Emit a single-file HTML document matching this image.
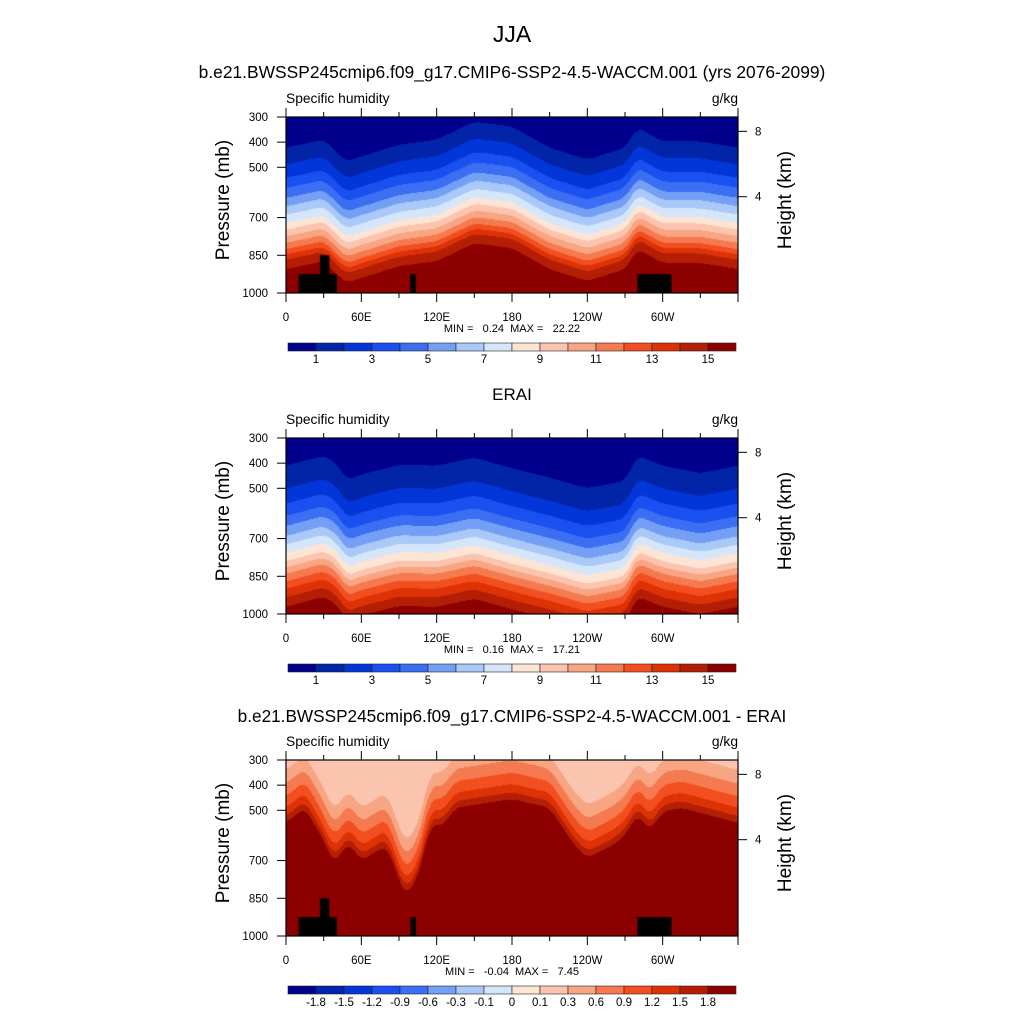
<!DOCTYPE html>
<html><head><meta charset="utf-8"><style>
html,body{margin:0;padding:0;background:#fff;}
#root{position:relative;width:1024px;height:1024px;overflow:hidden;font-family:"Liberation Sans",sans-serif;color:#000;}
.t{position:absolute;white-space:nowrap;}
canvas{position:absolute;}
svg{position:absolute;left:0;top:0;}
</style></head><body>
<div id="root">
<div class="t" style="left:0;width:1024px;text-align:center;top:21px;font-size:23px;">JJA</div>
<div class="t" style="left:0;width:1024px;text-align:center;top:62px;font-size:17.4px;">b.e21.BWSSP245cmip6.f09_g17.CMIP6-SSP2-4.5-WACCM.001 (yrs 2076-2099)</div>
<div class="t" style="left:0;width:1024px;text-align:center;top:385px;font-size:17px;">ERAI</div>
<div class="t" style="left:0;width:1024px;text-align:center;top:706px;font-size:17.2px;">b.e21.BWSSP245cmip6.f09_g17.CMIP6-SSP2-4.5-WACCM.001 - ERAI</div>
<canvas id="c1" width="452" height="176" style="left:286px;top:117px"></canvas>
<canvas id="c2" width="452" height="176" style="left:286px;top:438px"></canvas>
<canvas id="c3" width="452" height="176" style="left:286px;top:760px"></canvas>
<svg id="ov" width="1024" height="1024"></svg>
</div>
<script>
const palette=["#00008c","#0224a8","#0336d9","#1a4ff0","#3b6ef2","#73a0f5","#aac8f8","#d5e6fb","#fde5d5","#fbc4ae","#f8a583","#f57a4f","#f24e20","#dc3206","#b41e04","#8c0000"];
const levelsQ=[1,2,3,4,5,6,7,8,9,10,11,12,13,14,15];
const levelsD=[-1.8,-1.5,-1.2,-0.9,-0.6,-0.3,-0.1,0,0.1,0.3,0.6,0.9,1.2,1.5,1.8];
const cbLabelsQ=["1","3","5","7","9","11","13","15"];
const cbLabelsD=["-1.8","-1.5","-1.2","-0.9","-0.6","-0.3","-0.1","0","0.1","0.3","0.6","0.9","1.2","1.5","1.8"];
const lonTicks=["0","60E","120E","180","120W","60W"];
const presTicks=[300,400,500,700,850,1000];
const heightTicks=[8,4];
const heightTickPres=[357,617];
const profP=[300,400,500,600,700,800,850,925,1000];
const profModel=[0.3,1,2.5,5,8,11.8,14.2,16,17.5];
const profERAI=[0.2,0.8,1.8,3.5,6,9,11,13.5,15.5];
const profDiffP=[300,330,370,420,470,510,550,600,700,1000];
const profDiff=[0.12,0.25,0.45,0.75,1.05,1.35,1.8,2.3,3,5];
const shiftLonModel=[0,30,48,60,90,120,150,180,210,240,270,280,300,330,360];
const shiftModel=[-22,10,-77,-57,-10,10,81,62,-22,-69,-22,58,3,3,-22];
const shiftLonERAI=[0,30,40,49,60,90,120,150,180,210,240,270,280,300,330,360];
const shiftERAI=[10,50,20,-47,-25,13,10,42,0,-38,-80,-50,50,10,-20,10];
const shiftLonDiff=[0,15,30,38,50,60,80,95,105,115,125,135,180,210,230,240,260,270,280,290,300,315,330,360];
const shiftDiff=[0,60,-70,-160,-80,-150,-90,-290,-220,-10,-10,60,95,60,-90,-140,-90,-50,35,-30,45,60,40,0];
const topoLon0=[10,27,99,280];
const topoLon1=[40.5,34.5,103.5,307];
const topoTop=[925,850,925,925];
const minmax=[["0.24","22.22"],["0.16","17.21"],["-0.04","7.45"]];

const X0=286,W=452,H=176,P0=300,P1=1000;
const xLon=l=>X0+l/360*W;
const yP=(top,p)=>top+(p-P0)/(P1-P0)*H;
function interp(xs,ys,x){if(x<=xs[0])return ys[0];for(let i=1;i<xs.length;i++){if(x<=xs[i]){const t=(x-xs[i-1])/(xs[i]-xs[i-1]);return ys[i-1]+t*(ys[i]-ys[i-1]);}}return ys[ys.length-1];}
function smoothInterp(xs,ys,x){const t=[-4,-2,0,2,4];let s=0;for(const d of t)s+=interp(xs,ys,x+d);return s/t.length;}
function cls(levels,v){let k=0;while(k<levels.length&&v>=levels[k])k++;return k;}
function draw(id,pp,prof,sl,sv,levels,topo){
  const c=document.getElementById(id).getContext('2d');
  for(let i=0;i<W;i++){const lon=(i+0.5)/W*360;const s=smoothInterp(sl,sv,lon);
    for(let j=0;j<H;j++){const p=P0+(j+0.5)/H*(P1-P0);const v=interp(pp,prof,p+s);
      c.fillStyle=palette[cls(levels,v)];c.fillRect(i,j,1,1);}}
  if(topo){c.fillStyle="#000";for(let k=0;k<topoLon0.length;k++){const xa=topoLon0[k]/360*W,xb=topoLon1[k]/360*W,ya=(topoTop[k]-P0)/(P1-P0)*H;c.fillRect(xa,ya,xb-xa,H-ya);}}
}
draw('c1',profP,profModel,shiftLonModel,shiftModel,levelsQ,true);
draw('c2',profP,profERAI,shiftLonERAI,shiftERAI,levelsQ,false);
draw('c3',profDiffP,profDiff,shiftLonDiff,shiftDiff,levelsD,true);

const svg=document.getElementById('ov');const NS="http://www.w3.org/2000/svg";
function el(tag,a,txt){const e=document.createElementNS(NS,tag);for(const k in a)e.setAttribute(k,a[k]);if(txt!==undefined)e.textContent=txt;svg.appendChild(e);return e;}
const tops=[117,438,760];const cbY=[343,664,986];
tops.forEach((top,pi)=>{
  const fr=el('rect',{x:X0,y:top,width:W,height:H,fill:'none',stroke:'#000','stroke-width':1.2});
  
  
  for(let l=0;l<=360;l+=30){const x=xLon(l);const len=(l%60==0)?9:5;
    el('line',{x1:x,y1:top+H,x2:x,y2:top+H+len,stroke:'#000','stroke-width':1});
    el('line',{x1:x,y1:top,x2:x,y2:top-len,stroke:'#000','stroke-width':1});}
  lonTicks.forEach((lb,i)=>{const t=el('text',{x:xLon(i*60),y:top+H+28,'font-size':11.5,'text-anchor':'middle'},lb);
    
    });
  presTicks.forEach(p=>{const y=yP(top,p);el('line',{x1:X0,y1:y,x2:X0-9,y2:y,stroke:'#000','stroke-width':1});
    const t=el('text',{x:X0-18,y:y+4,'font-size':11.5,'text-anchor':'end'},String(p));
    
    });
  heightTicks.forEach((h,i)=>{const y=yP(top,heightTickPres[i]);el('line',{x1:X0+W,y1:y,x2:X0+W+9,y2:y,stroke:'#000','stroke-width':1});
    const t=el('text',{x:X0+W+17,y:y+4,'font-size':11.5},String(h));
    
    });
  let t=el('text',{x:X0,y:top-14,'font-size':13.8},'Specific humidity');
  
  
  t=el('text',{x:X0+W,y:top-14,'font-size':13.8,'text-anchor':'end'},'g/kg');
  
  
  const cy=top+H/2-5;
  t=el('text',{x:229,y:cy,'font-size':19,'text-anchor':'middle',transform:`rotate(-90 229 ${cy})`},'Pressure (mb)');
  
  
  t=el('text',{x:791,y:cy,'font-size':19,'text-anchor':'middle',transform:`rotate(-90 791 ${cy})`},'Height (km)');
  
  
  t=el('text',{x:512,y:top+H+39,'font-size':11,'text-anchor':'middle',style:'white-space:pre'},`MIN =   ${minmax[pi][0]}  MAX =   ${minmax[pi][1]}`);
  
  
  const cx0=288,cw=448,bw=cw/16,y=cbY[pi];
  for(let k=0;k<16;k++){const r=el('rect',{x:cx0+k*bw,y:y,width:bw,height:8,fill:palette[k],stroke:'#222','stroke-width':0.6});
    
    }
  const labs=pi<2?cbLabelsQ:cbLabelsD;
  labs.forEach((lb,i)=>{const k=pi<2?1+2*i:1+i;const tt=el('text',{x:cx0+k*bw,y:y+20,'font-size':11.5,'text-anchor':'middle'},lb);
    
    });
});
</script>
</body></html>
